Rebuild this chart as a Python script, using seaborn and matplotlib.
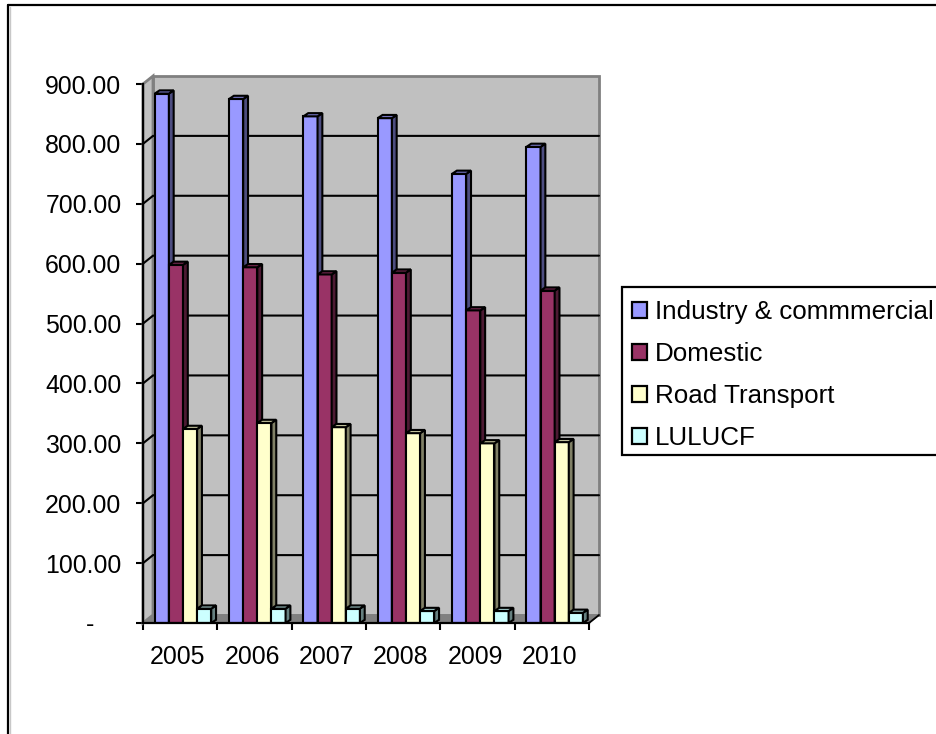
import numpy as np
import pandas as pd
import matplotlib
matplotlib.use("Agg")
import matplotlib.pyplot as plt
from matplotlib.patches import Polygon, Rectangle
from matplotlib.colors import to_rgb
import seaborn as sns

years = ["2005", "2006", "2007", "2008", "2009", "2010"]
sectors = ["Industry & commmercial", "Domestic", "Road Transport", "LULUCF"]
industry = [884, 875, 846, 843, 750, 795]
domestic = [598, 594, 582, 585, 522, 555]
road = [324, 334, 327, 317, 300, 302]
lulucf = [24, 24, 24, 20, 20, 17]
colours = ["#9999FF", "#993366", "#FFFFCC", "#CCFFFF"]
y_ticks = [0, 100, 200, 300, 400, 500, 600, 700, 800, 900]
y_labels = ["-    "] + [f"{v:.2f}" for v in y_ticks[1:]]

W, H = 937, 734
sns.set_theme(style="white")
plt.rcParams["font.family"] = ["Liberation Sans", "DejaVu Sans"]
FS = 17.9
LEGEND_FS = 18.7

df = pd.DataFrame({
    "year": years * 4,
    "value": industry + domestic + road + lulucf,
    "sector": [s for s in sectors for _ in years],
})

fig = plt.figure(figsize=(W / 100, H / 100), dpi=100, facecolor="white")
ax = fig.add_axes([143 / W, 1 - 623 / H, 446 / W, 539 / H])
ax.patch.set_alpha(0)

sns.barplot(data=df, x="year", y="value", hue="sector", hue_order=sectors,
            palette=colours, width=0.76, gap=0, saturation=1, errorbar=None,
            edgecolor="black", linewidth=1.5, legend=False, ax=ax)

x0 = -40 / 74.33
ax.set_xlim(x0, x0 + 6)
ax.set_ylim(0, 900)
px_x = 1 / 74.33
px_y = 900 / 539

# Box behind the bars: back wall, side wall and floor
dx, dy = 10 * px_x, 8 * px_y
x1 = x0 + 6
edge = "#808080"
ax.add_patch(Polygon([(x0 + dx, dy), (x1 + dx, dy), (x1 + dx, 900 + dy), (x0 + dx, 900 + dy)],
                     fc="#C0C0C0", ec=edge, lw=2, clip_on=False, zorder=0.5))
ax.add_patch(Polygon([(x0, 0), (x0 + dx, dy), (x0 + dx, 900 + dy), (x0, 900)],
                     fc="#C0C0C0", ec=edge, lw=2, clip_on=False, zorder=0.6))
ax.add_patch(Polygon([(x0, 0), (x0 + dx, dy), (x1 + dx, dy), (x1, 0)],
                     fc="#808080", ec=edge, lw=1, clip_on=False, zorder=0.7))
for v in y_ticks[1:-1]:
    ax.plot([x0, x0 + dx, x1 + dx], [v, v + dy, v + dy], color="black", lw=1.5,
            clip_on=False, zorder=0.8, solid_joinstyle="miter")
ax.plot([x1, x1 + dx], [0, dy], color="black", lw=1.3, clip_on=False, zorder=0.9)

# Side and top faces give each bar its depth
bx, by = 4.8 * px_x, 3.2 * px_y
for i, container in enumerate(ax.containers):
    base = np.array(to_rgb(colours[i]))
    for bar in container:
        bar.set_zorder(3 + i)
        left, right = bar.get_x(), bar.get_x() + bar.get_width()
        top = bar.get_height()
        ax.add_patch(Polygon([(right, 0), (right + bx, by), (right + bx, top + by), (right, top)],
                             fc=base * 0.5, ec="black", lw=1.5, clip_on=False, zorder=3 + i))
        ax.add_patch(Polygon([(left, top), (left + bx, top + by), (right + bx, top + by), (right, top)],
                             fc=base * 0.75, ec="black", lw=1.5, clip_on=False, zorder=3 + i))

# Axes, ticks and labels
sns.despine(ax=ax, top=True, right=True)
for side in ("left", "bottom"):
    ax.spines[side].set_color("black")
    ax.spines[side].set_linewidth(1.6)
    ax.spines[side].set_zorder(10)
ax.set_xlabel("")
ax.set_ylabel("")
ax.set_yticks(y_ticks, y_labels)
ax.tick_params(axis="y", length=5, width=1.5, color="black", pad=10.5,
               labelsize=FS, labelcolor="black", left=True)
ax.set_xticks(x0 + np.arange(7))
ax.set_xticklabels([""] * 7)
ax.tick_params(axis="x", which="major", length=5, width=1.5, color="black", bottom=True)
ax.set_xticks(x0 + 0.47 + np.arange(6), years, minor=True)
ax.tick_params(axis="x", which="minor", length=0, pad=15.5, labelsize=FS, labelcolor="black")

# Legend box runs off the right side of the figure
fig.add_artist(Rectangle((622 / W, 1 - 455 / H), 330 / W, 168 / H, transform=fig.transFigure,
                         fc="white", ec="black", lw=1.6, clip_on=False))
handles = [Rectangle((0, 0), 1, 1, fc=c, ec="black", lw=1.6) for c in colours]
leg = fig.legend(handles, sectors, loc="upper left", bbox_to_anchor=(622 / W, 1 - 290 / H),
                 bbox_transform=fig.transFigure, borderaxespad=0, fontsize=LEGEND_FS,
                 frameon=False, handlelength=0.55, handleheight=0.55, handletextpad=0.32,
                 labelspacing=0.69, borderpad=0.4, labelcolor="black")

# Outer chart border, open on the right and bottom
fig.add_artist(plt.Line2D([10.2 / W, 10.2 / W], [0, 1 - 7 / H], color="#C8C8C8", lw=1))
fig.add_artist(plt.Line2D([8.5 / W, 8.5 / W], [0, 1 - 5.2 / H], color="black", lw=1.6))
fig.add_artist(plt.Line2D([8.5 / W, 1], [1 - 5.2 / H, 1 - 5.2 / H], color="black", lw=1.6))

fig.savefig("out.png", dpi=100, facecolor="white")
